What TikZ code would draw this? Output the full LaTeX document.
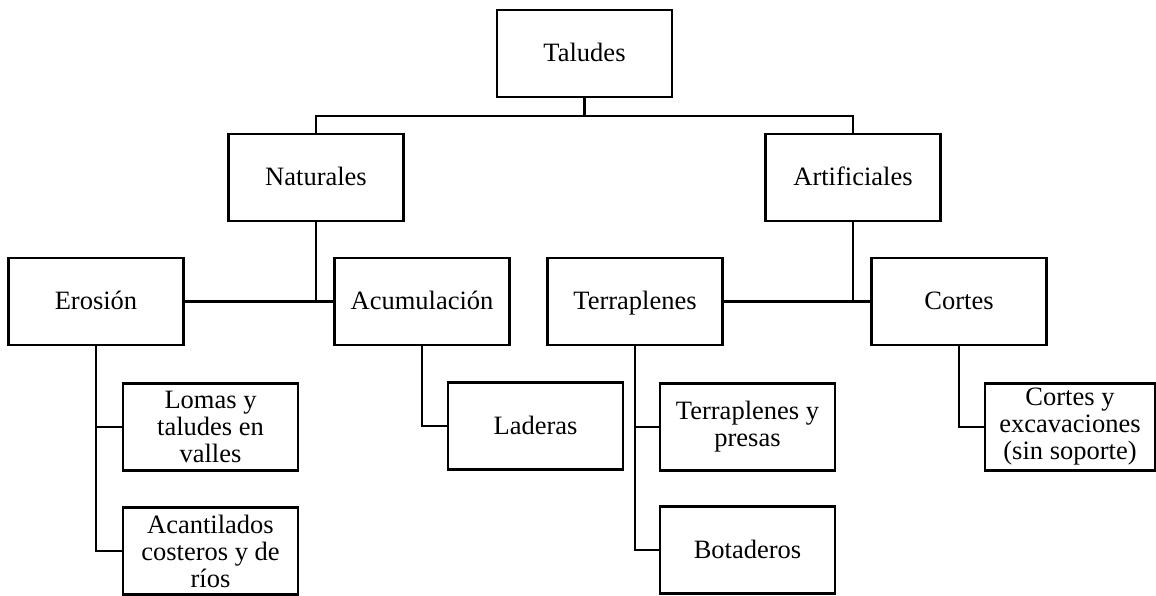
\documentclass[tikz,border=0pt]{standalone}
\usepackage{fontspec}
\setmainfont{Liberation Serif}
\tikzset{
  caja/.style={draw, line width=2.3pt, minimum width=175pt, minimum height=87pt,
    align=center, inner sep=0pt, font=\fontsize{26.5}{27}\selectfont},
  una/.style={text height=22pt, text depth=6pt},
  enlace/.style={line width=2.3pt}
}
\begin{document}
\begin{tikzpicture}[x=1pt, y=-1pt]
        \useasboundingbox (0,0) rectangle (1156,596);
        % nivel 1
        \node [caja, una] (taludes) at (584.5,53.5) {Taludes};
        % nivel 2
        \node [caja, una] (naturales) at (316,177.5) {Naturales};
        \node [caja, una] (artificiales) at (853,177.5) {Artificiales};
        % nivel 3
        \node [caja, una] (erosion) at (96,301.5) {Erosión};
        \node [caja, una] (acumulacion) at (422,301.5) {Acumulación};
        \node [caja, una] (terraplenes) at (635,301.5) {Terraplenes};
        \node [caja, una] (cortes) at (959,301.5) {Cortes};
        % nivel 4
        \node [caja] (lomas) at (210.5,427) {Lomas y\\taludes en\\valles};
        \node [caja] (acantilados) at (210.5,551) {Acantilados\\costeros y de\\ríos};
        \node [caja, una] (laderas) at (535.5,426) {Laderas};
        \node [caja] (presas) at (747.5,427) {Terraplenes y\\presas};
        \node [caja, una] (botaderos) at (747.5,550) {Botaderos};
        \node [caja, minimum width=170pt] (excavaciones) at (1070,427) {Cortes y\\excavaciones\\(sin soporte)};
        % conectores
        \draw[enlace] (taludes.south) -- ++(0,18) coordinate (tj);
        \draw[enlace] (naturales.north) |- (tj) -| (artificiales.north);
        \draw[enlace] (naturales.south) -- (naturales.south |- erosion.east);
        \draw[enlace] (erosion.east) -- (acumulacion.west);
        \draw[enlace] (artificiales.south) -- (artificiales.south |- terraplenes.east);
        \draw[enlace] (terraplenes.east) -- (cortes.west);
        \draw[enlace] (erosion.south) |- (lomas.west);
        \draw[enlace] (erosion.south) |- (acantilados.west);
        \draw[enlace] (acumulacion.south) |- (laderas.west);
        \draw[enlace] (terraplenes.south) |- (presas.west);
        \draw[enlace] (terraplenes.south) |- (botaderos.west);
        \draw[enlace] (cortes.south) |- (excavaciones.west);
\end{tikzpicture}
\end{document}
